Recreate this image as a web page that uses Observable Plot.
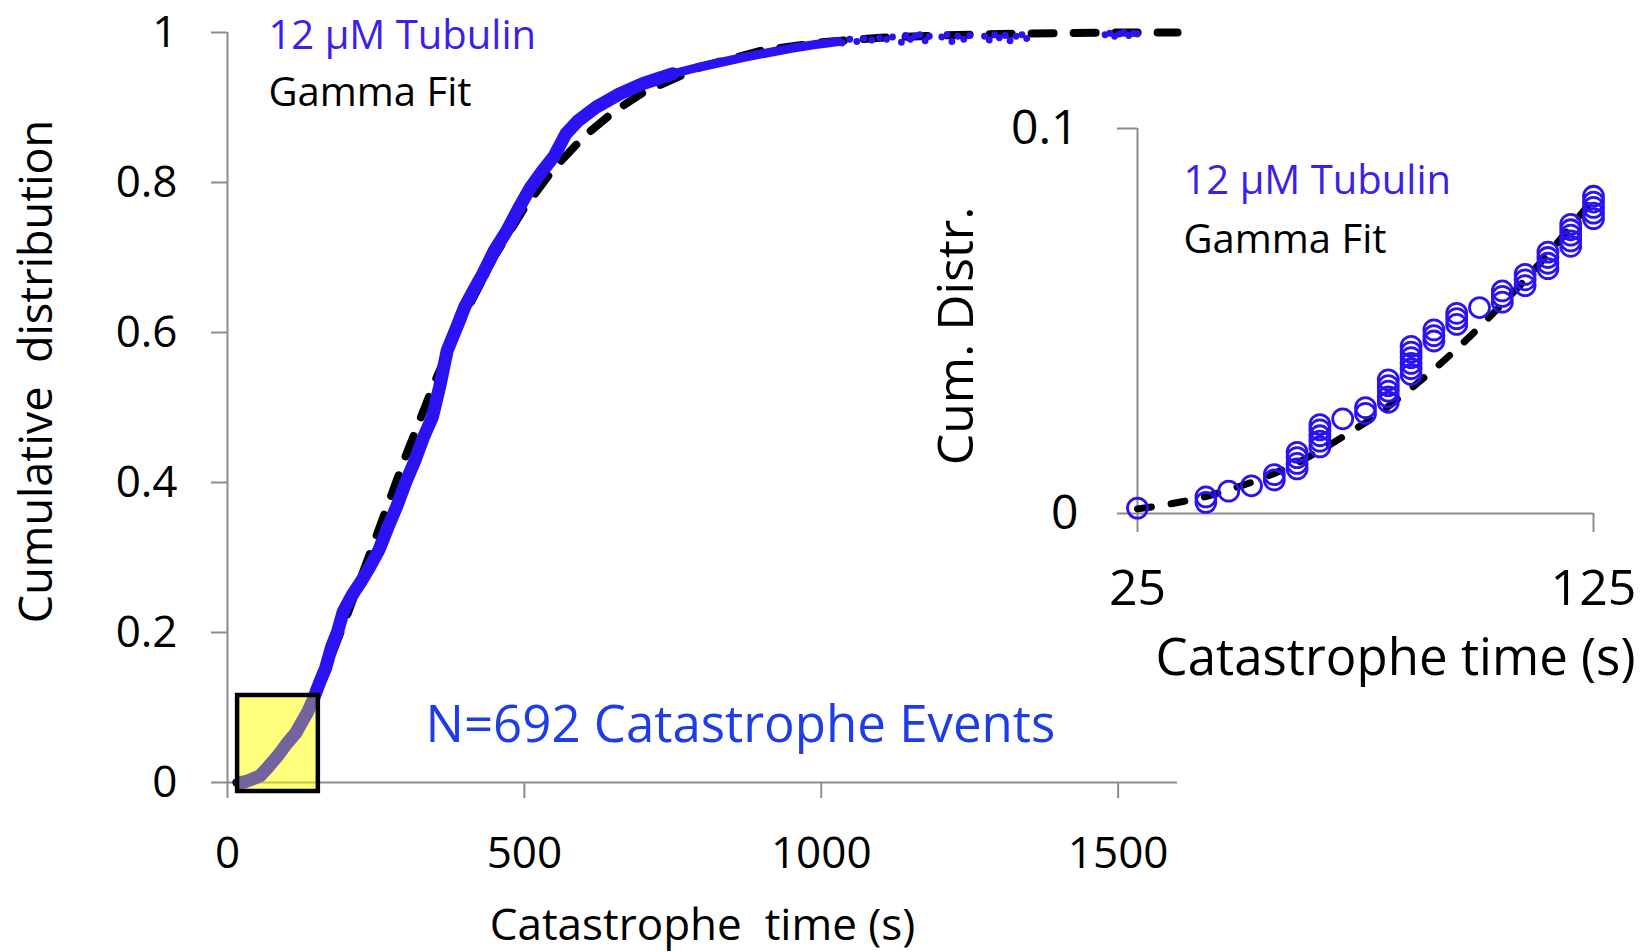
<!DOCTYPE html>
<html>
<head>
<meta charset="utf-8">
<script src="https://cdn.jsdelivr.net/npm/d3@7"></script>
<script src="https://cdn.jsdelivr.net/npm/@observablehq/plot@0.6"></script>
<style>
html, body { margin: 0; padding: 0; background: #ffffff; }
#wrap { position: relative; width: 1651px; height: 952px; overflow: hidden; font-family: 'Open Sans', sans-serif; }
#main { position: absolute; left: 0; top: 0; }
#inset { position: absolute; left: 880px; top: 90px; }
</style>
</head>
<body>
<div id="wrap"><div id="main"></div><div id="inset"></div></div>
<script>
// ---------- Main panel data ----------
const xTicksMain = [0, 500, 1000, 1500];
const yTicksMain = [0, 0.2, 0.4, 0.6, 0.8, 1];

const bandTime = [22, 30, 40, 55, 70, 85, 100, 115, 125, 135, 145, 155, 165, 175, 185, 195, 210, 225, 240, 255, 270, 285, 300, 315, 330, 345, 358, 370, 385, 400, 415, 430, 450, 470, 490, 510, 530, 550, 570, 590, 620, 660, 700, 750];
const bandFrac = [0.000, 0.001, 0.004, 0.009, 0.022, 0.036, 0.052, 0.066, 0.080, 0.094, 0.112, 0.133, 0.152, 0.180, 0.200, 0.228, 0.250, 0.268, 0.288, 0.310, 0.340, 0.368, 0.400, 0.428, 0.460, 0.487, 0.530, 0.576, 0.605, 0.635, 0.657, 0.678, 0.710, 0.735, 0.765, 0.793, 0.815, 0.835, 0.865, 0.882, 0.900, 0.918, 0.932, 0.945];

// Thinner part of the band near the top
const tailTime = [750, 790, 830, 870, 910, 950, 990, 1030];
const tailFrac = [0.945, 0.953, 0.960, 0.967, 0.973, 0.979, 0.984, 0.988];

// Sparse points in the far tail
const dotTime = [1010, 1022, 1035, 1048, 1060, 1072, 1085, 1098, 1110, 1120,
                 1135, 1142, 1150, 1158, 1166, 1175, 1182,
                 1203, 1212, 1220, 1230, 1240, 1250,
                 1275, 1283, 1292, 1300, 1310, 1318, 1328, 1338, 1346,
                 1478, 1486, 1494, 1502, 1510, 1518, 1526, 1532];
const dotFrac = [0.985, 0.989, 0.986, 0.991, 0.988, 0.992, 0.990, 0.993, 0.991, 0.994,
                 0.987, 0.996, 0.991, 0.995, 0.997, 0.989, 0.995,
                 0.994, 0.997, 0.988, 0.995, 0.991, 0.996,
                 0.995, 0.990, 0.997, 0.993, 0.996, 0.989, 0.995, 0.997, 0.992,
                 0.997, 0.999, 0.995, 0.998, 1.000, 0.996, 0.999, 0.998];

// Gamma fit (dashed)
const fitTime = [15, 25, 50, 75, 100, 125, 150, 175, 200, 250, 300, 350, 400, 450, 500, 550, 600, 650, 700, 800, 900, 1000, 1100, 1200, 1300, 1400, 1500, 1600];
const fitFrac = [0.000, 0.001, 0.008, 0.024, 0.048, 0.082, 0.122, 0.169, 0.220, 0.327, 0.435, 0.536, 0.625, 0.702, 0.766, 0.819, 0.861, 0.894, 0.920, 0.955, 0.976, 0.987, 0.993, 0.996, 0.998, 0.999, 1.000, 1.000];

// Highlighted zoom region (yellow box)
const boxTime = [17, 153];
const boxFrac = [-0.012, 0.116];

// ---------- Inset data ----------
const xTicksInset = [25, 125];
const yTicksInset = [0, 0.1];
const insetTime = [25, 40, 40, 45, 50, 55, 55, 60, 60, 60, 60, 65, 65, 65, 65, 65, 70, 75, 75,
                   80, 80, 80, 80, 80, 85, 85, 85, 85, 85, 85, 90, 90, 90, 95, 95, 95, 100,
                   105, 105, 105, 110, 110, 110, 115, 115, 115, 115, 120, 120, 120, 120, 120,
                   125, 125, 125, 125, 125];
const insetFrac = [0.0014, 0.0029, 0.0043, 0.0058, 0.0072, 0.0087, 0.0101, 0.0116, 0.0130, 0.0145, 0.0159,
                   0.0173, 0.0188, 0.0202, 0.0217, 0.0231, 0.0246, 0.0260, 0.0275,
                   0.0289, 0.0303, 0.0318, 0.0332, 0.0347, 0.0361, 0.0376, 0.0390, 0.0405, 0.0419, 0.0434,
                   0.0448, 0.0462, 0.0477, 0.0491, 0.0506, 0.0520, 0.0535,
                   0.0549, 0.0564, 0.0578, 0.0592, 0.0607, 0.0621, 0.0636, 0.0650, 0.0665, 0.0679,
                   0.0694, 0.0708, 0.0723, 0.0737, 0.0751,
                   0.0766, 0.0780, 0.0795, 0.0809, 0.0824];
const insetFitTime = [25, 30, 35, 40, 45, 50, 55, 60, 65, 70, 75, 80, 85, 90, 95, 100, 105, 110, 115, 120, 125];
const insetFitFrac = [0.0012, 0.0020, 0.0031, 0.0044, 0.0061, 0.0081, 0.0104, 0.0131, 0.0163, 0.0199, 0.0236, 0.0278, 0.0325, 0.0374, 0.0427, 0.0484, 0.0544, 0.0606, 0.0674, 0.0744, 0.0818];

// ---------- Styles ----------
const AXIS = "#8c8c8c";
const BAND = "#2a12f2";
const LEGBLUE = "#3c1fe8";
const NBLUE = "#1f3de6";
const FONT = "'Open Sans', sans-serif";

const zip = (t, f) => t.map((d, i) => ({t: d, f: f[i]}));
const band = zip(bandTime, bandFrac);
const tail = zip(tailTime, tailFrac);
const dots = zip(dotTime, dotFrac);
const fit = zip(fitTime, fitFrac);
const box = [{x1: boxTime[0], x2: boxTime[1], y1: boxFrac[0], y2: boxFrac[1]}];
const insetPts = zip(insetTime, insetFrac);
const insetFit = zip(insetFitTime, insetFitFrac);

const mainPlot = Plot.plot({
  width: 1651, height: 952,
  marginLeft: 227, marginRight: 474, marginTop: 32, marginBottom: 170,
  x: {domain: [0, 1600]},
  y: {domain: [0, 1]},
  style: {fontFamily: FONT, background: "transparent", overflow: "visible"},
  marks: [
    Plot.ruleX([0], {y1: 0, y2: 1, stroke: AXIS, strokeWidth: 2}),
    Plot.ruleY([0], {x1: 0, x2: 1600, stroke: AXIS, strokeWidth: 2}),
    Plot.axisY(yTicksMain, {tickSize: 16, tickPadding: 34, fontSize: 44, stroke: AXIS, strokeWidth: 2, fill: "#000", tickFormat: d => String(d), label: null}),
    Plot.axisX(xTicksMain, {tickSize: 16, tickPadding: 38, fontSize: 44, stroke: AXIS, strokeWidth: 2, fill: "#000", tickFormat: d => String(d), label: null}),
    Plot.rect(box, {x1: "x1", x2: "x2", y1: "y1", y2: "y2", fill: "#ffff00", fillOpacity: 0.25, stroke: "none"}),
    Plot.line(fit, {x: "t", y: "f", stroke: "#000", strokeWidth: 8, strokeDasharray: "22,20", strokeLinecap: "round"}),
    Plot.line(band, {x: "t", y: "f", stroke: BAND, strokeWidth: 13, strokeLinejoin: "round", strokeLinecap: "round"}),
    Plot.line(tail, {x: "t", y: "f", stroke: BAND, strokeWidth: 9, strokeLinejoin: "round", strokeLinecap: "round"}),
    Plot.dot(dots, {x: "t", y: "f", r: 3.4, fill: BAND, stroke: "none"}),
    Plot.rect(box, {x1: "x1", x2: "x2", y1: "y1", y2: "y2", fill: "#ffff00", fillOpacity: 0.35, stroke: "#000", strokeWidth: 4.5}),
    Plot.text(["12 µM Tubulin"], {frameAnchor: "top-left", textAnchor: "start", lineAnchor: "middle", dx: 41, dy: 4, fontSize: 40, fill: LEGBLUE, text: d => d}),
    Plot.text(["Gamma Fit"], {frameAnchor: "top-left", textAnchor: "start", lineAnchor: "middle", dx: 41, dy: 61, fontSize: 40, fill: "#000", text: d => d}),
    Plot.text(["N=692 Catastrophe Events"], {frameAnchor: "bottom-left", textAnchor: "start", lineAnchor: "middle", dx: 198, dy: -57, fontSize: 51, fill: NBLUE, text: d => d}),
    Plot.text(["Catastrophe\u00a0 time (s)"], {frameAnchor: "bottom", textAnchor: "middle", lineAnchor: "middle", dy: 143, fontSize: 44, fill: "#000", text: d => d}),
    Plot.text(["Cumulative\u00a0 distribution"], {frameAnchor: "left", textAnchor: "middle", rotate: -90, lineAnchor: "middle", dx: -190, dy: -36, fontSize: 45, fill: "#000", text: d => d})
  ]
});
document.getElementById("main").appendChild(mainPlot);

const insetPlot = Plot.plot({
  width: 771, height: 620,
  marginLeft: 257, marginRight: 58, marginTop: 38, marginBottom: 197,
  x: {domain: [25, 125]},
  y: {domain: [0, 0.1]},
  style: {fontFamily: FONT, background: "transparent", overflow: "visible"},
  marks: [
    Plot.ruleX([25], {y1: 0, y2: 0.1, stroke: AXIS, strokeWidth: 2}),
    Plot.ruleY([0], {x1: 25, x2: 125, stroke: AXIS, strokeWidth: 2}),
    Plot.axisY(yTicksInset, {tickSize: 20, tickPadding: 39, fontSize: 48, stroke: AXIS, strokeWidth: 2, fill: "#000", tickFormat: d => String(d), label: null}),
    Plot.axisX(xTicksInset, {tickSize: 19, tickPadding: 37, fontSize: 50, stroke: AXIS, strokeWidth: 2, fill: "#000", tickFormat: d => String(d), label: null}),
    Plot.line(insetFit, {x: "t", y: "f", stroke: "#000", strokeWidth: 7, strokeDasharray: "14,20", strokeLinecap: "round"}),
    Plot.dot(insetPts, {x: "t", y: "f", r: 10, stroke: BAND, strokeWidth: 2.8, fill: "none"}),
    Plot.text(["12 µM Tubulin"], {frameAnchor: "top-left", textAnchor: "start", lineAnchor: "middle", dx: 46, dy: 53, fontSize: 40, fill: LEGBLUE, text: d => d}),
    Plot.text(["Gamma Fit"], {frameAnchor: "top-left", textAnchor: "start", lineAnchor: "middle", dx: 46, dy: 112, fontSize: 40, fill: "#000", text: d => d}),
    Plot.text(["Catastrophe time (s)"], {frameAnchor: "bottom", textAnchor: "middle", lineAnchor: "middle", dx: 30, dy: 145, fontSize: 51, fill: "#000", text: d => d}),
    Plot.text(["Cum. Distr."], {frameAnchor: "left", textAnchor: "middle", rotate: -90, lineAnchor: "middle", dx: -181, dy: 15, fontSize: 50, fill: "#000", text: d => d})
  ]
});
document.getElementById("inset").appendChild(insetPlot);
</script>
</body>
</html>
